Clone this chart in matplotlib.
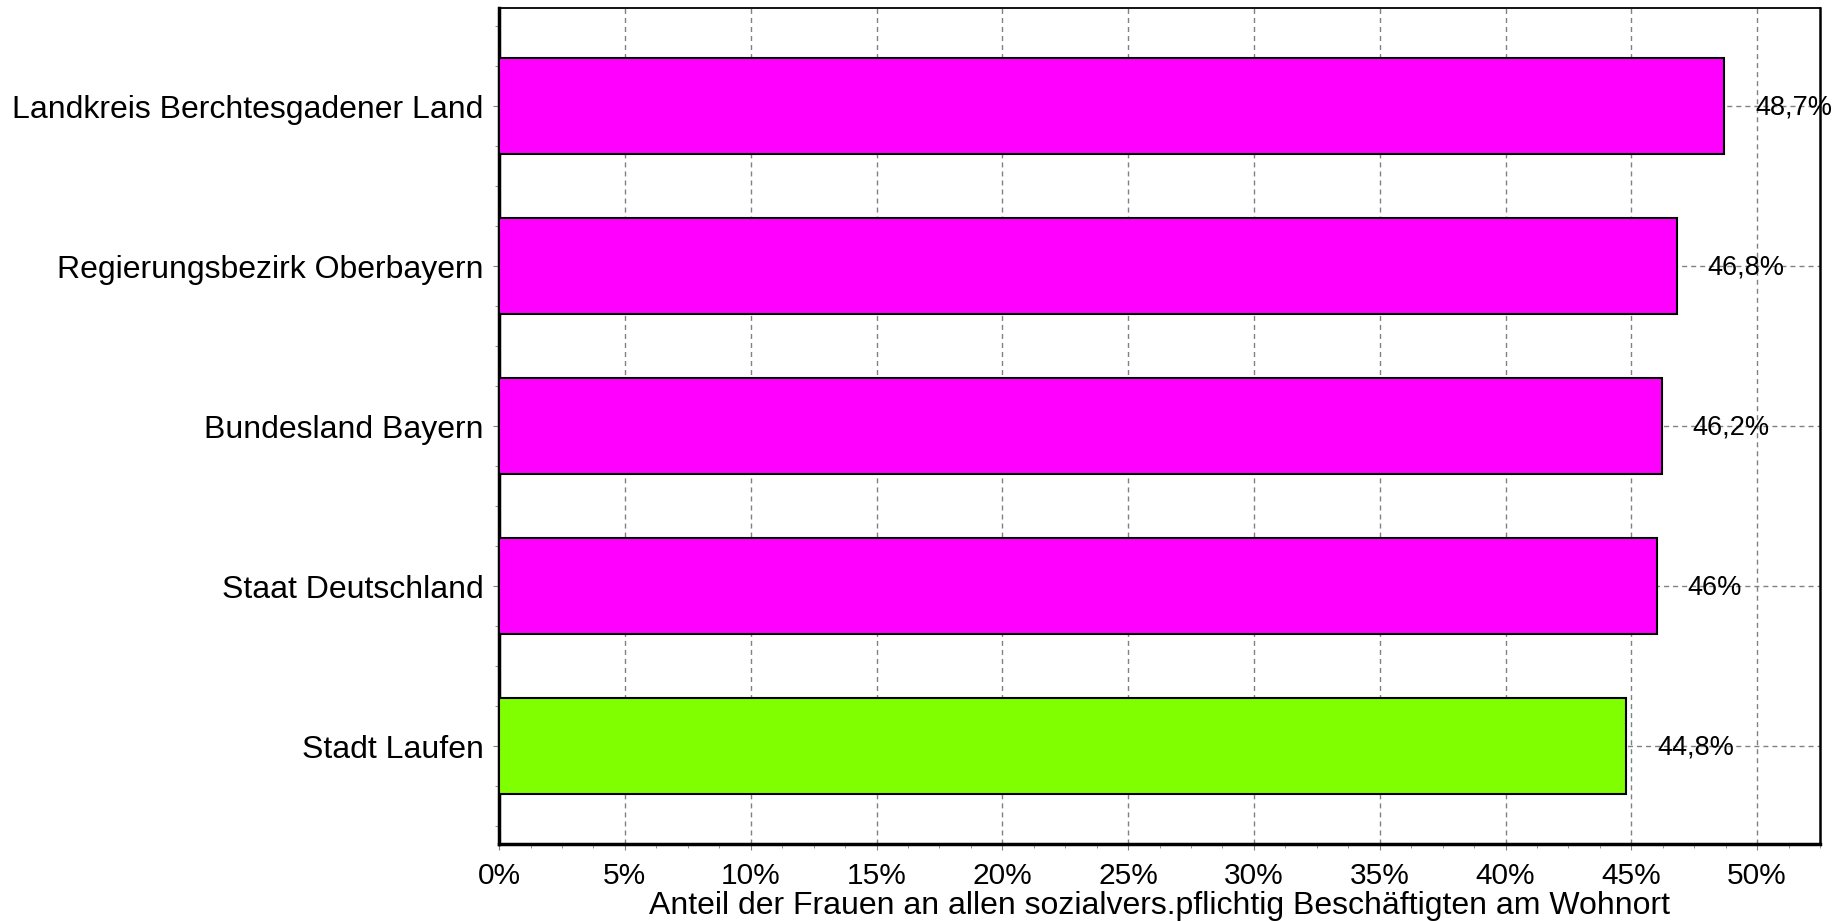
import matplotlib.pyplot as plt
from matplotlib.ticker import MultipleLocator, FuncFormatter

plt.rcParams['font.family'] = ['Liberation Sans', 'DejaVu Sans']

regions = ['Stadt Laufen', 'Staat Deutschland', 'Bundesland Bayern',
           'Regierungsbezirk Oberbayern', 'Landkreis Berchtesgadener Land']
share = [44.8, 46.0, 46.2, 46.8, 48.7]
share_text = ['44,8%', '46%', '46,2%', '46,8%', '48,7%']
colors = ['#80ff00', '#ff00ff', '#ff00ff', '#ff00ff', '#ff00ff']

fig = plt.figure(figsize=(18.45, 9.21), dpi=100)
ax = fig.add_axes([0.2705, 0.0836, 0.716, 0.9072])

ypos = list(range(len(regions)))
ax.barh(ypos, share, height=0.6, color=colors, edgecolor='black',
        linewidth=1.5, zorder=3)

for y, v, t in zip(ypos, share, share_text):
    ax.annotate(t, (v, y), xytext=(22, -1), textcoords='offset points',
                va='center', ha='left', fontsize=19.5, zorder=4)

ax.set_xlim(0, 52.5)
ax.set_ylim(-0.61, 4.61)
ax.xaxis.set_major_locator(MultipleLocator(5))
ax.xaxis.set_minor_locator(MultipleLocator(1.25))
ax.xaxis.set_major_formatter(FuncFormatter(lambda v, p: '%d%%' % round(v)))
ax.set_yticks(ypos)
ax.set_yticklabels(regions)
ax.yaxis.set_minor_locator(MultipleLocator(0.25))

ax.grid(True, which='major', color='#808080', linestyle=(0, (3.6, 2.9)),
        linewidth=1.0, zorder=0)
ax.set_axisbelow(True)

ax.tick_params(axis='x', which='major', labelsize=21.5, length=4,
               color='#808080', pad=9)
ax.tick_params(axis='x', which='minor', length=3, color='#808080')
ax.tick_params(axis='y', which='major', labelsize=23, length=4,
               color='#808080', pad=7)
ax.tick_params(axis='y', which='minor', length=3, color='#808080')

ax.spines['left'].set_linewidth(2.5)
ax.spines['bottom'].set_linewidth(2.5)
ax.spines['top'].set_linewidth(1.3)
ax.spines['right'].set_linewidth(1.8)

ax.set_xlabel('Anteil der Frauen an allen sozialvers.pflichtig Beschäftigten am Wohnort',
              fontsize=23, labelpad=1)

fig.savefig('out.png', dpi=100)
